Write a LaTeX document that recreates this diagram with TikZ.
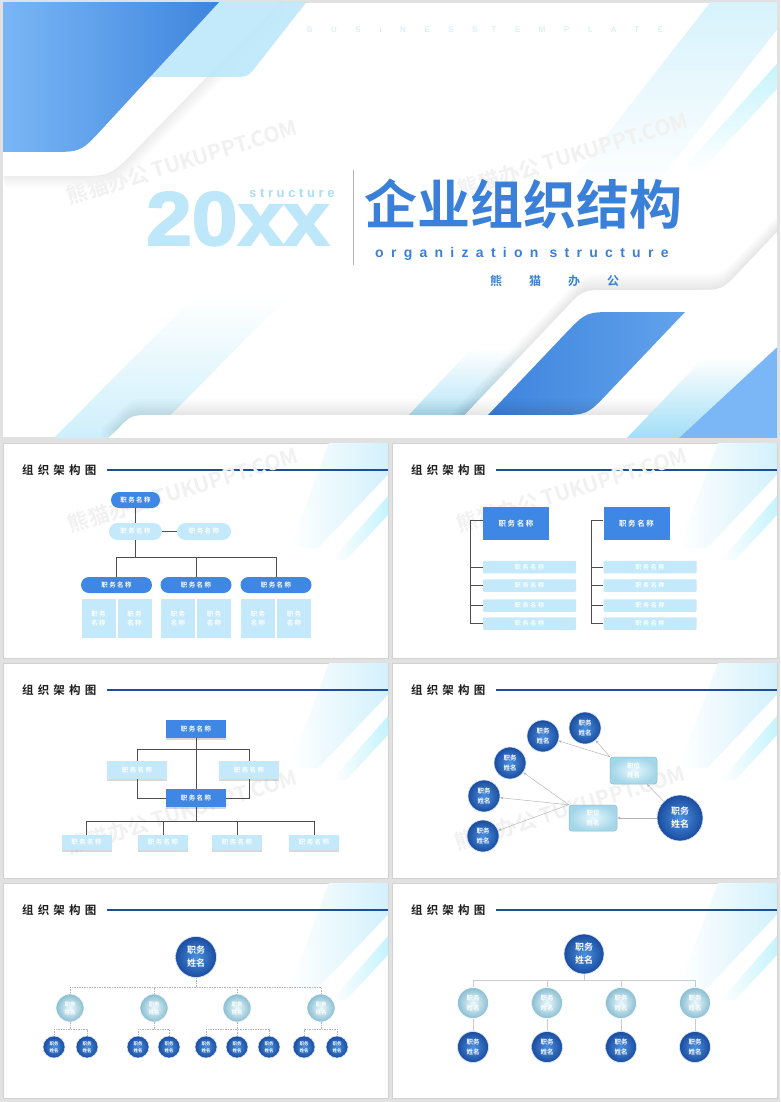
\documentclass[tikz,border=0pt]{standalone}
\usepackage{fontspec}
\setsansfont{Liberation Sans}
\newfontfamily\cjk{Noto Sans CJK SC}[BoldFont={* Bold}]
\usetikzlibrary{arrows.meta,shadows}
\definecolor{pagegray}{HTML}{E1E1E1}
\definecolor{framegray}{HTML}{D2D2D2}
\definecolor{deepblue}{HTML}{3F87E4}
\definecolor{paleblue}{HTML}{C3E9FA}
\definecolor{ruleblue}{HTML}{1D4E96}
\definecolor{inkblack}{HTML}{1E1E1E}
\definecolor{linkgray}{HTML}{4D4D4D}
\definecolor{titleblue}{HTML}{3B80D8}
\definecolor{yearcyan}{HTML}{BEE7FA}
\definecolor{wordcyan}{HTML}{A8DDF5}
\definecolor{bizcyan}{HTML}{C9ECFA}
\definecolor{glazecyan}{HTML}{CDEFFB}
\definecolor{topcyan}{HTML}{BCE8FA}
\definecolor{stripcyan}{HTML}{9FDDF6}
\definecolor{blueA}{HTML}{3D84DD}
\definecolor{blueB}{HTML}{7BB7F6}
\definecolor{blueC}{HTML}{62A2EC}
\definecolor{ballin}{HTML}{4A90E0}
\definecolor{ballout}{HTML}{1B4C9E}
\definecolor{palein}{HTML}{EDF9FD}
\definecolor{paleout}{HTML}{89BED2}
\definecolor{glossin}{HTML}{E6F7FD}
\definecolor{glossout}{HTML}{A2D6E8}
\definecolor{glossedge}{HTML}{8DBCCD}
\definecolor{wmgray}{HTML}{F1F1F1}

\newcommand\fsz[2]{\fontsize{#1}{#2}\selectfont}
\newcommand\spaced[1]{\addfontfeatures{LetterSpace=#1}}

% frame, heading and rule shared by the six small slides
\newcommand\orgframe[1]{%
  \fill[white,draw=framegray,line width=.5pt] (3,3) rectangle (388,218);
  \begin{scope}
    \clip (3,3) rectangle (388,218);
    \shade[left color=white,right color=glazecyan] (330,0) -- (400,0) -- (400,22) -- (318,108) -- (290,108) -- cycle;
    \shade[left color=white,right color=glazecyan!90!cyan] (400,42) -- (400,62) -- (346,120) -- (332,120) -- cycle;
  \end{scope}
  \node[slidetitle] (#1head) at (22,30) {组织架构图};
  \draw[rule] (107,30) -- (388,30);
}

\begin{document}
\begin{tikzpicture}[x=1pt,y=-1pt,
  >={Stealth[length=3.2pt,width=2.6pt]},
  link/.style={draw=linkgray,line width=0.8pt},
  dashlink/.style={draw=black!30,line width=0.5pt,dash pattern=on 1.5pt off 1pt},
  thinlink/.style={draw=black!20,line width=0.7pt},
  netarrow/.style={->,draw=black!30,line width=0.45pt},
  rule/.style={draw=ruleblue,line width=1.7pt},
  slidetitle/.style={anchor=west,inner sep=0pt,text=inkblack,
                     font=\cjk\bfseries\spaced{36}\fsz{11.5}{12}},
  tag/.style={inner sep=0pt,text=white,align=center,
              font=\cjk\bfseries\spaced{22}\fsz{6.5}{9.8}},
  darkpill/.style={tag,fill=deepblue,rounded corners=8pt,minimum width=71pt,minimum height=16pt},
  palepill/.style={tag,fill=paleblue,rounded corners=8.5pt,minimum width=53pt,minimum height=17pt},
  palecard/.style={tag,fill=paleblue,minimum width=34pt,minimum height=39pt},
  darkbox/.style={tag,fill=deepblue,minimum width=66pt,minimum height=33pt,
                  font=\cjk\bfseries\spaced{22}\fsz{7.5}{9}},
  palebar/.style={tag,fill=paleblue,minimum width=93pt,minimum height=12.5pt,rounded corners=1pt,
                  font=\cjk\bfseries\spaced{30}\fsz{6}{8}},
  flag/.style={tag,minimum width=60pt,minimum height=18pt,
               drop shadow={shadow xshift=0pt,shadow yshift=-1.8pt,opacity=.3}},
  darkflag/.style={flag,fill=deepblue},
  paleflag/.style={flag,fill=paleblue},
  ball/.style={circle,inner sep=0pt,align=center,text=white,inner color=ballin,outer color=ballout,
               draw=white!80!ballin,line width=0.6pt,font=\cjk\bfseries\fsz{6.5}{9.8}},
  paleball/.style={ball,inner color=palein,outer color=paleout,draw=white},
  gloss/.style={tag,rounded corners=3pt,inner color=glossin,outer color=glossout,draw=glossedge,
                line width=.5pt,font=\cjk\bfseries\fsz{6.5}{9.8}},
  watermark/.style={text=wmgray,rotate=17,inner sep=0pt,font=\cjk\bfseries\fsz{21}{21}}
]
\useasboundingbox (0,0) rectangle (780,1102);
\fill[pagegray] (0,0) rectangle (780,1102);

% Cover slide
\fill[white] (3,3) rectangle (777,437);
\begin{scope}
  \clip (3,3) rectangle (777,437);
  % faint streaks
  \shade[top color=glazecyan!80,bottom color=white] (712,0) -- (800,0) -- (648,195) -- (560,195) -- cycle;
  \shade[top color=glazecyan!90!cyan,bottom color=white] (800,38) -- (800,64) -- (700,172) -- (680,172) -- cycle;
  \shade[top color=white,bottom color=glazecyan] (52,440) -- (195,296) -- (288,296) -- (146,440) -- cycle;
  % ribbon and blocks, top left
  \foreach \s in {12,10,...,2}
    \fill[black,fill opacity=.012,shift={(\s/2,\s)}]
      (0,0) -- (282,0) -- (134.5,151) .. controls (110,176) .. (75,176) -- (0,176) -- cycle;
  \fill[white] (0,0) -- (282,0) -- (134.5,151) .. controls (110,176) .. (75,176) -- (0,176) -- cycle;
  \fill[topcyan,fill opacity=.9] (130,0) -- (308,0) -- (258,64) .. controls (248,77) .. (232,77) -- (120,77) -- cycle;
  \shade[left color=blueB,right color=blueA]
    (0,0) -- (221,0) -- (103,128) .. controls (81,152) .. (49,152) -- (0,152) -- cycle;
  % ribbon and blocks, bottom right
  \shade[top color=white,bottom color=stripcyan]
    (385,440) -- (459,362) .. controls (472,348) .. (492,348) -- (620,348) -- (620,440) -- cycle;
  \foreach \s in {16,14,...,2}
    \fill[black,fill opacity=.012,shift={(0,-\s)}]
      (855,150) -- (739,272) .. controls (722,290) .. (697,290) -- (608,290)
      .. controls (583,290) .. (566,308) -- (441,440) -- (900,440) -- cycle;
  \fill[white] (855,150) -- (739,272) .. controls (722,290) .. (697,290) -- (608,290)
      .. controls (583,290) .. (566,308) -- (441,440) -- (900,440) -- cycle;
  \shade[left color=blueA,right color=blueC]
    (488,415) -- (565,334) .. controls (586,312) .. (616,312) -- (685,312)
    -- (608,393) .. controls (587,415) .. (557,415) -- cycle;
  \foreach \s in {16,14,...,2}
    \fill[black,fill opacity=.012,shift={(0,-\s)}]
      (100,445) -- (116,431) .. controls (131,415) .. (153,415) -- (800,415) -- (800,445) -- cycle;
  \fill[white] (100,445) -- (116,431) .. controls (131,415) .. (153,415) -- (800,415) -- (800,445) -- cycle;
  \shade[top color=white,bottom color=stripcyan]
    (625,440) -- (692,370) .. controls (703,358) .. (720,358) -- (800,358) -- (800,440) -- cycle;
  \fill[blueB] (677,440) -- (800,326) -- (800,440) -- cycle;
\end{scope}

\node[watermark] (wm1) at (182,162) {熊猫办公 TUKUPPT.COM};
\node[watermark] (wm2) at (573,155) {熊猫办公 TUKUPPT.COM};

\node[font=\sffamily\spaced{232}\fsz{8}{9},text=bizcyan,anchor=west,inner sep=0pt] (biz)
  at (307,30) {BUSINESS\hspace{14pt}TEMPLATE};
\node[font=\sffamily\bfseries\addfontfeatures{FakeBold=2.5,FakeStretch=1.08}\fsz{76}{76},
      text=yearcyan,anchor=base west,inner sep=0pt] (year) at (146,245) {20};
\node[font=\sffamily\bfseries\addfontfeatures{FakeBold=2.5,FakeStretch=1.08}\fsz{76}{76},
      text=yearcyan,anchor=base west,inner sep=0pt] (yearxx) at (year.base east) {xx};
\node[font=\sffamily\bfseries\spaced{28}\fsz{13}{14},text=wordcyan,anchor=base west,inner sep=0pt] (yearword)
  at (249,197) {structure};
\draw[black!30,line width=.5pt] (353,170) -- (353,265);
\node[font=\cjk\bfseries\fsz{53}{53},text=titleblue,inner sep=0pt] (cntitle) at (523,204) {企业组织结构};
\node[font=\sffamily\bfseries\spaced{52}\fsz{14}{15},text=titleblue,anchor=west,inner sep=0pt] (entitle)
  at (375,254) {organization structure};
\node[font=\cjk\bfseries\spaced{225}\fsz{12}{12},text=titleblue,anchor=west,inner sep=0pt] (brand)
  at (490,281) {熊猫办公};

% Slide 1: pills and cards
\begin{scope}[shift={(0,440)}]
  \orgframe{a}
  \node[watermark] (awm) at (183,50) {熊猫办公 TUKUPPT.COM};
  \node[darkpill,minimum width=49pt] (atop) at (135.5,60) {职务名称};
  \node[palepill] (amid) at (135.5,91.5) {职务名称};
  \node[palepill,minimum width=54pt] (aside) at (204,91.5) {职务名称};
  \foreach \x [count=\i] in {116.5,196,276} {
    \node[darkpill] (ahead\i) at (\x,145) {职务名称};
    \node[palecard] (acard\i a) at (\x-18,178.5) {职务\\名称};
    \node[palecard] (acard\i b) at (\x+18,178.5) {职务\\名称};
  }
  \draw[link] (atop) -- (amid);
  \draw[link] (amid) -- (aside);
  \draw[link] (amid.south) -- ++(0,18);
  \draw[link] (ahead1.north) -- ++(0,-19) -| (ahead3.north);
  \draw[link] (ahead2.north) -- ++(0,-19);
\end{scope}

% Slide 2: two bracket lists
\begin{scope}[shift={(389,440)}]
  \orgframe{b}
  \node[watermark] (bwm) at (183,50) {熊猫办公 TUKUPPT.COM};
  \foreach \x/\s in {127/l,247.5/r} {
    \node[darkbox] (b\s) at (\x,83.5) {职务名称};
    \foreach \y [count=\i] in {127,145.5,165.5,183.5}
      \node[palebar] (b\s\i) at (\x+13.5,\y) {职务名称};
    \draw[link] ([yshift=3.5pt]b\s.west) -- ++(-12,0) |- (b\s4.west);
    \foreach \i in {1,2,3}
      \draw[link] (b\s\i.west) -- ++(-12,0);
  }
\end{scope}

% Slide 3: flags with an assistant level
\begin{scope}[shift={(0,660)}]
  \orgframe{c}
  \node[watermark] (cwm) at (182,152) {熊猫办公 TUKUPPT.COM};
  \node[darkflag] (ctop) at (196,69) {职务名称};
  \node[paleflag] (cleft) at (137,110) {职务名称};
  \node[paleflag] (cright) at (249,110) {职务名称};
  \node[darkflag] (cmid) at (196,138) {职务名称};
  \foreach \x [count=\i] in {86.5,163,237,314}
    \node[paleflag,minimum width=50pt,minimum height=15pt] (cbot\i) at (\x,182.5) {职务名称};
  \draw[link] (ctop) -- (cmid);
  \draw[link] (cleft.north) -- ++(0,-11) -| (cright.north);
  \draw[link] (cleft.south) |- (cmid.west);
  \draw[link] (cright.south) |- (cmid.east);
  \draw[link] (cmid.south) -- ++(0,15);
  \draw[link] (cbot1.north) -- ++(0,-13) -| (cbot4.north);
  \draw[link] (cbot2.north) -- ++(0,-13);
  \draw[link] (cbot3.north) -- ++(0,-13);
\end{scope}

% Slide 4: network of circles
\begin{scope}[shift={(389,660)}]
  \orgframe{d}
  \node[watermark] (dwm) at (181,148) {熊猫办公 TUKUPPT.COM};
  \node[ball,minimum size=32pt] (dc1) at (196,68) {职务\\姓名};
  \node[ball,minimum size=32pt] (dc2) at (154,76) {职务\\姓名};
  \node[ball,minimum size=32pt] (dc3) at (121,103) {职务\\姓名};
  \node[ball,minimum size=32pt] (dc4) at (95,136) {职务\\姓名};
  \node[ball,minimum size=32pt] (dc5) at (94,176) {职务\\姓名};
  \node[ball,minimum size=46pt,font=\cjk\bfseries\fsz{9}{13}] (dbig) at (291,158) {职务\\姓名};
  \node[gloss,minimum width=47pt,minimum height=27pt] (dr1) at (244.5,110.5) {职位\\姓名};
  \node[gloss,minimum width=48pt,minimum height=26pt] (dr2) at (204,158) {职位\\姓名};
  \draw[netarrow] (dr1.north west) -- (dc1);
  \draw[netarrow] (dr1.north west) -- (dc2);
  \draw[netarrow] (dr2.north west) -- (dc3);
  \draw[netarrow] (dr2.north west) -- (dc4);
  \draw[netarrow] (dr2.north west) -- (dc5);
  \draw[netarrow] (dbig) -- (dr2);
  \draw[netarrow] (dbig) -- (dr1);
\end{scope}

% Slide 5: three levels, dashed
\begin{scope}[shift={(0,880)}]
  \orgframe{e}
  \node[ball,minimum size=41pt,font=\cjk\bfseries\fsz{9}{13}] (etop) at (196,77) {职务\\姓名};
  \foreach \x [count=\i] in {70,154,237,321} {
    \node[paleball,minimum size=28pt,font=\cjk\bfseries\fsz{5.5}{8.2}] (emid\i) at (\x,128) {职务\\姓名};
    \draw[dashlink] (etop.south) -- ++(0,9.5) -| (emid\i.north);
  }
  \foreach \x/\p [count=\i] in {54/1,87/1,138/2,169/2,206/3,237/3,269/3,304/4,337/4} {
    \node[ball,minimum size=22pt,font=\cjk\bfseries\fsz{4.5}{6.8}] (esub\i) at (\x,167) {职务\\姓名};
    \draw[dashlink] (emid\p.south) -- ++(0,7) -| (esub\i.north);
  }
\end{scope}

% Slide 6: three levels, solid
\begin{scope}[shift={(389,880)}]
  \orgframe{f}
  \node[ball,minimum size=40pt,font=\cjk\bfseries\fsz{9}{13}] (ftop) at (195,74) {职务\\姓名};
  \foreach \x [count=\i] in {84,158,232,306} {
    \node[paleball,minimum size=31pt] (fmid\i) at (\x,123) {职务\\姓名};
    \node[ball,minimum size=31pt] (fsub\i) at (\x,167) {职务\\姓名};
    \draw[thinlink] (ftop.south) -- ++(0,6) -| (fmid\i.north);
    \draw[thinlink] (fmid\i) -- (fsub\i);
  }
\end{scope}

\end{tikzpicture}
\end{document}
